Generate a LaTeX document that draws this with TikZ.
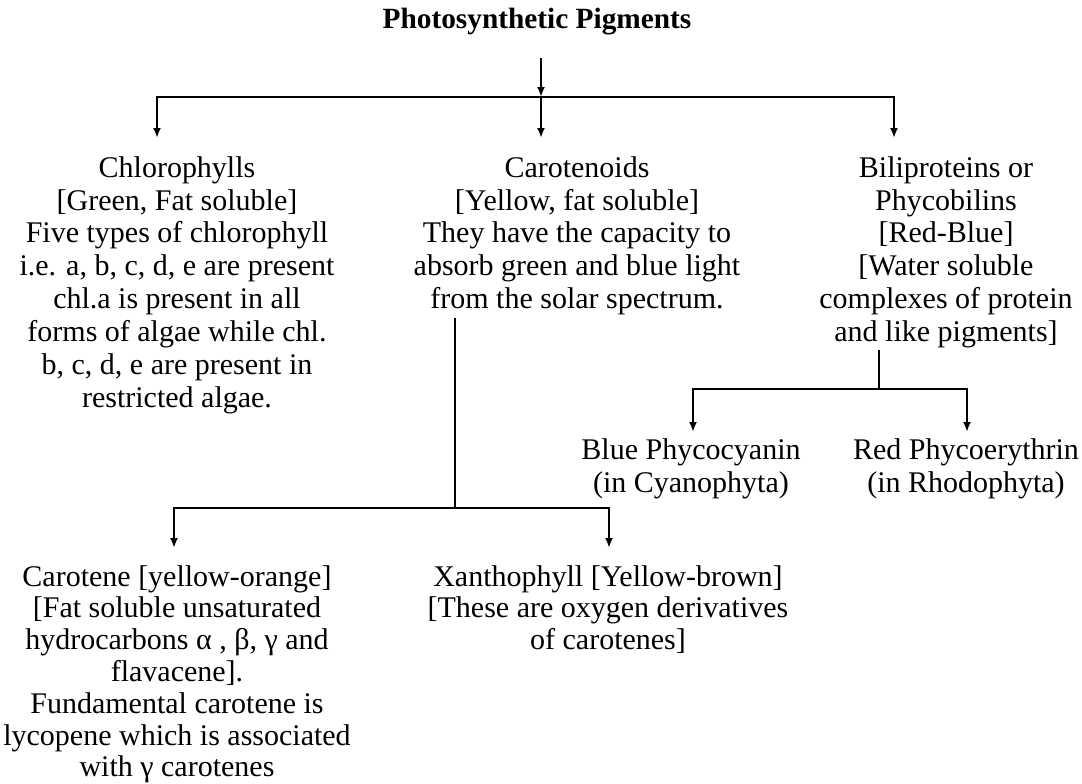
\documentclass[tikz,border=0pt]{standalone}
\usepackage{fontspec}
\setmainfont{Liberation Serif}
\usetikzlibrary{arrows.meta}
\begin{document}
\begin{tikzpicture}[x=0.75pt,y=-0.75pt,
  conn/.style={line width=1.8pt},
  arr/.style={conn,-{Latex[length=7.5pt,width=6pt]}},
  blk/.style={align=center,inner sep=0pt,anchor=north,font=\fontsize{22.5}{24.7}\selectfont},
  blkb/.style={align=center,inner sep=0pt,anchor=north,font=\fontsize{22.5}{23.85}\selectfont},
  ttl/.style={inner sep=0pt,anchor=base,font=\fontsize{22}{26}\selectfont\bfseries}]
\useasboundingbox (0,0) rectangle (1082,783);

% nodes
\node[ttl] (title) at (537,28) {Photosynthetic Pigments};
\node[blk] (chl) at (177,156) {Chlorophylls\\{[Green, Fat soluble]}\\Five types of chlorophyll\\i.e. a, b, c, d, e are present\\chl.a is present in all\\forms of algae while chl.\\b, c, d, e are present in\\restricted algae.};
\node[blk] (car) at (577,156) {Carotenoids\\{[Yellow, fat soluble]}\\They have the capacity to\\absorb green and blue light\\from the solar spectrum.};
\node[blk] (bil) at (946,156) {Biliproteins or\\Phycobilins\\{[Red-Blue]}\\{[Water soluble}\\complexes of protein\\and like pigments]};
\node[blk] (blue) at (691,438) {Blue Phycocyanin\\(in Cyanophyta)};
\node[blk] (red) at (966,438) {Red Phycoerythrin\\(in Rhodophyta)};
\node[blkb] (crt) at (177,565) {Carotene [yellow-orange]\\{[Fat soluble unsaturated}\\hydrocarbons α , β, γ and\\flavacene].\\Fundamental carotene is\\lycopene which is associated\\with γ carotenes};
\node[blkb] (xan) at (608,565) {Xanthophyll [Yellow-brown]\\{[These are oxygen derivatives}\\of carotenes]};

% junction coordinates
\coordinate (t0) at (541,58);
\coordinate (j0) at (541,97);
\coordinate (a1) at (157,138);
\coordinate (a2) at (541,138);
\coordinate (a3) at (894,138);
\coordinate (c0) at (455,318);
\coordinate (c1) at (455,508);
\coordinate (a4) at (174,548);
\coordinate (a5) at (609,548);
\coordinate (b0) at (879,350);
\coordinate (b1) at (879,389);
\coordinate (a6) at (693,432);
\coordinate (a7) at (967,432);

% connectors
\draw[arr] (t0) -- (j0);
\draw[arr] (j0) -| (a1);
\draw[arr] (j0) -- (a2);
\draw[arr] (j0) -| (a3);
\draw[conn] (c0) -- (c1);
\draw[arr] (c1) -| (a4);
\draw[arr] (c1) -| (a5);
\draw[conn] (b0) -- (b1);
\draw[arr] (b1) -| (a6);
\draw[arr] (b1) -| (a7);
\end{tikzpicture}
\end{document}
